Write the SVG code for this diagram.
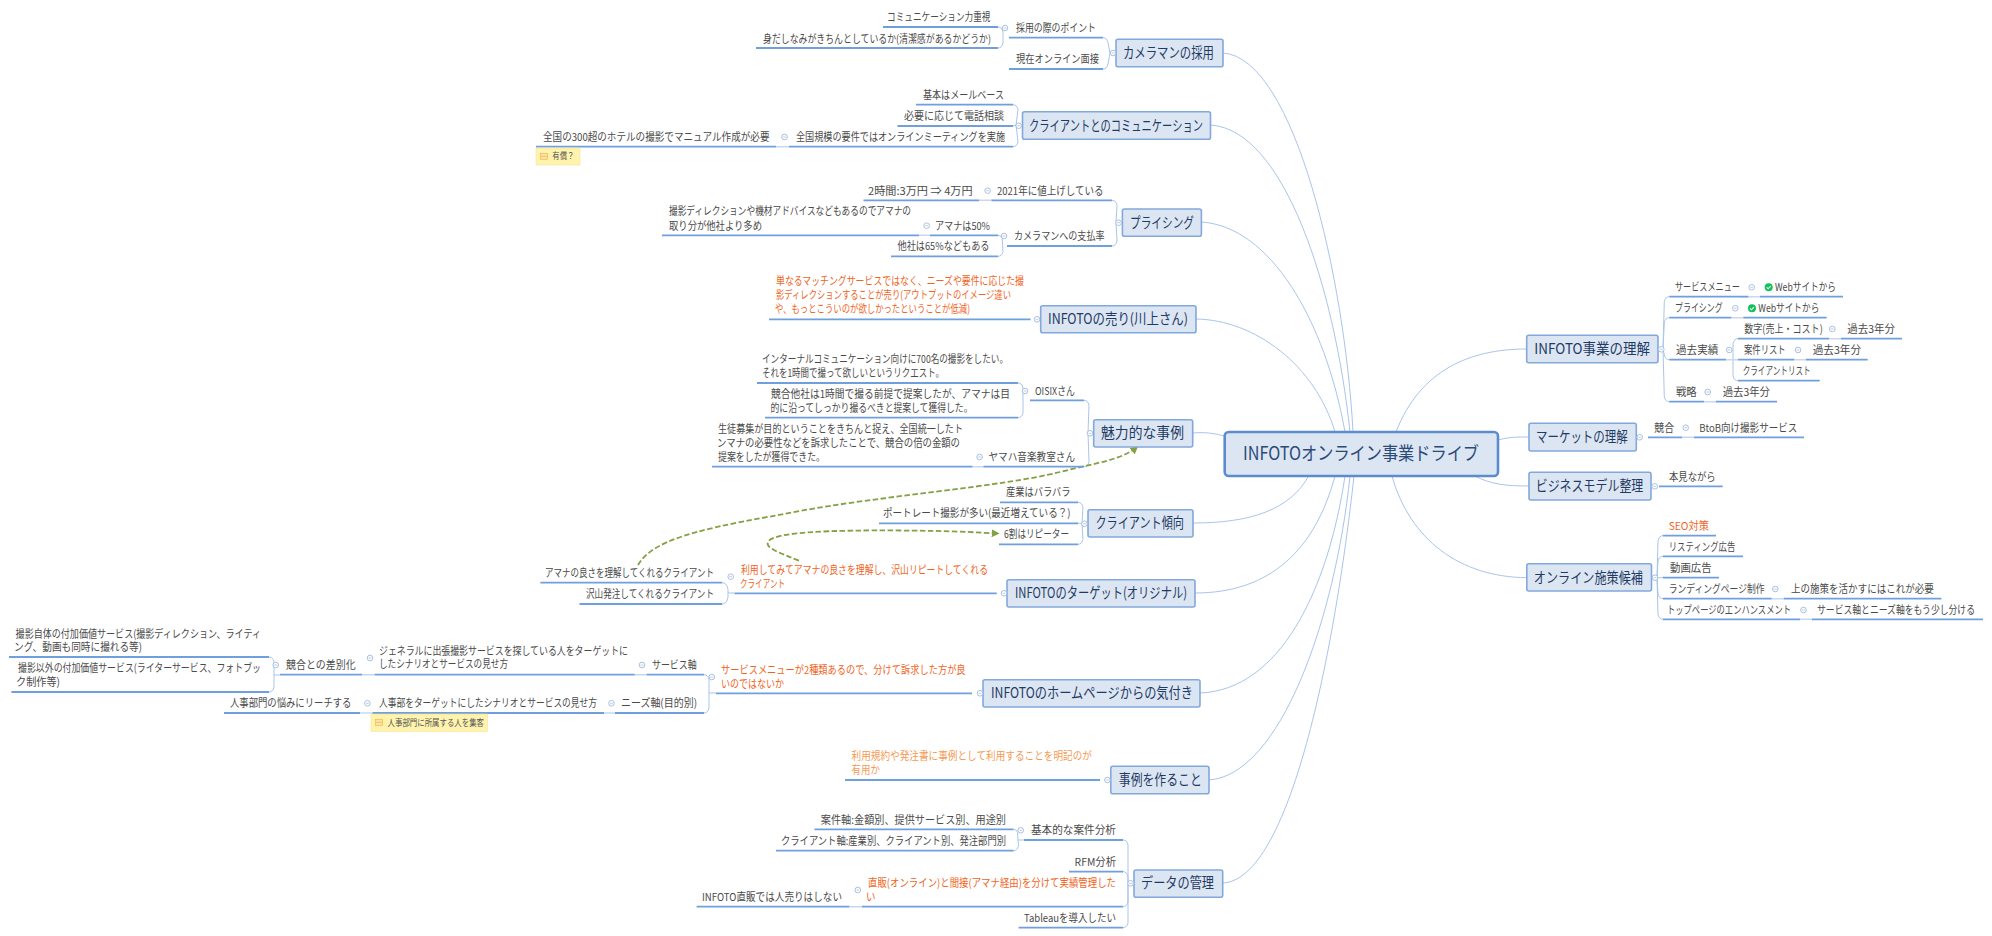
<svg xmlns="http://www.w3.org/2000/svg" width="1992" height="936" viewBox="0 0 1992 936">
<style>
text{font-family:"Noto Sans CJK JP","Noto Sans",sans-serif;font-size:11px;fill:#4a4a4a;white-space:pre}
.h{font-size:14.5px;fill:#1f3a63}
.c{font-size:18.500px;fill:#2b4a78}
.o{fill:#f0651e}
.l{fill:#f59a52}
.s{font-size:9px;fill:#555}
.b{fill:#dce6f3;stroke:#82a8dc;stroke-width:1.6}
.u{stroke:#6f9fdc;stroke-width:1.8;fill:none}
.k{stroke:#c9d8ee;stroke-width:1.4;fill:none}
.m{stroke:#a9c5ea;stroke-width:1;fill:none}
.d{stroke:#84a045;stroke-width:1.8;stroke-dasharray:5.500 2.500;fill:none}
.n{fill:#fff3ad;stroke:#f6e58f;stroke-width:.6}
</style>
<defs>
<g id="q"><circle r="2.8" fill="#fff" stroke="#a9bfe0" stroke-width="1"/><path d="M-1.4 0H1.4" stroke="#a9bfe0" stroke-width=".8"/></g>
<g id="ok"><circle r="4" fill="#0fc35a"/><path d="M-2 0L-.6 1.5L2 -1.2" stroke="#fff" stroke-width="1.1" fill="none"/></g>
<g id="ni"><rect x="-3.500" y="-3" width="7" height="6" fill="#fde49c" stroke="#eeb95e" stroke-width=".7"/><path d="M-3.500 0H3.500" stroke="#eeb95e" stroke-width=".7"/></g>
<marker id="ar" viewBox="0 0 10 10" refX="8" refY="5" markerWidth="8" markerHeight="8" orient="auto-start-reverse" markerUnits="userSpaceOnUse"><path d="M0 0L10 5L0 10Z" fill="#84a045"/></marker>
</defs>
<g id="connectors">
<path class="m" d="M1223 53C1295 58 1345 280 1353 432"/>
<path class="m" d="M1210.6 125C1285 130 1335 290 1350 432"/>
<path class="m" d="M1201 222C1270 226 1325 320 1345 432"/>
<path class="m" d="M1196 319C1255 320 1315 365 1335 432"/>
<path class="m" d="M1192.600 433C1205 432 1212 433 1224.700 436"/>
<path class="m" d="M1193 523C1250 523 1290 510 1308.600 476"/>
<path class="m" d="M1195 593C1270 593 1315 550 1335 476"/>
<path class="m" d="M1200 693C1280 690 1328 590 1345 476"/>
<path class="m" d="M1209 780C1280 775 1335 620 1350 476"/>
<path class="m" d="M1222.700 883C1290 880 1335 650 1354 476"/>
<path class="m" d="M1526.700 349C1470 349 1420 370 1396 432"/>
<path class="m" d="M1498 440C1510 437 1515 437 1529 437"/>
<path class="m" d="M1475 476C1490 484 1505 486 1529 486"/>
<path class="m" d="M1526.800 577.700C1460 577 1410 540 1392 476"/>
<path class="m" d="M1103 37.700q4 0 5 5L1110 53M1103 69q4 0 5-5L1110 53M998 27q4 0 5 5L1003 38M998 48q4 0 5-5L1003 38"/>
<path class="m" d="M1013 104.700q4 0 5 5L1016 125M1013 126L1016 125M1013 146.700q4 0 5-5L1016 125"/>
<path class="m" d="M1112 200.300q4 0 5 5L1116 222M1112 246q4 0 5-5L1116 222M998 235.300q3 0 4 3M998 256.300q4 0 5-5L1002 236"/>
<path class="m" d="M1084 400.300q4 0 5 5L1088 433M1084 466.700q4 0 5-5L1088 433M1018 383q4 0 5 5L1023 391M1018 417.700q4 0 5-5L1023 391"/>
<path class="m" d="M1078 502.300q4 0 5 5L1082 523M1078 523.300H1082M1078 544.300q4 0 5-5L1082 523"/>
<path class="m" d="M722 582.700q5 0 6 7L728 593H734.500M722 604q5 0 6-7L728 593"/>
<path class="m" d="M704 674.700q4 0 5 5L709 693H716M704 713q4 0 5-5L709 693"/>
<path class="m" d="M269 657q4 0 5 5L274 675H280M269 692q4 0 5-5L274 675"/>
<path class="m" d="M1123 840q4 0 5 5L1128 883M1123 871.700q4 0 5 5L1128 883M1123 906.700q4 0 5-5L1128 883M1123 927.700q4 0 5-5L1128 883M1013.500 829.300q3 0 4 3L1018 840H1024M1013.500 850.700q4 0 5-5L1018 840"/>
<path class="m" d="M1669.300 296.700q-4 0-5 5L1663 349M1669.300 317.700q-4 0-5 5L1663 349M1669.300 359.700q-4 0-5-5L1663 349M1669.300 401.700q-4 0-5-5L1663 349M1738 338.700q-4 0-5 5L1733 360M1738 380.700q-4 0-5-5L1733 360"/>
<path class="m" d="M1663 535.700q-4 0-5 5L1657 578M1663 556.300q-4 0-5 5L1657 578M1663 577.700H1657M1663 598.700q-4 0-5-5L1657 578M1663 619.300q-4 0-5-5L1657 578"/>
<path class="k" d="M776 146.700H789M979 200.300H991.500M919 235.300H930M972.500 466.700H983.400M362 674.700H374.600M360 713H372.500M634.700 674.700H646.500M604 713H615M849.400 906.700H862M1740 296.700H1760M1731.300 317.700H1743.300M1829 338.700H1841M1794.300 359.700H1806M1704 401.700H1716M1682 437.300H1694M1771.700 598.700H1783.800M1800 619.300H1812M1726 359.700H1738"/>
<path class="d" d="M638 565C655 535 720 526 800 511S1000 487 1060 472C1095 463 1122 460 1137 447" marker-end="url(#ar)"/>
<path class="d" d="M799 560.700C780 553 765 548 768 542C772 532 830 530 900 530.500S980 533 998 533.500" marker-end="url(#ar)"/>
</g>
<g id="root"><rect x="1224.700" y="432" width="273.300" height="44" rx="4" fill="#dce6f3" stroke="#5c8ccc" stroke-width="2.600"/><text class="c" x="1243" y="460" textLength="236" lengthAdjust="spacingAndGlyphs">INFOTOオンライン事業ドライブ</text></g>

<g id="n1"><rect class="b" x="1116" y="39.300" width="107" height="27.400" rx="2"/><text class="h" x="1123" y="58" textLength="91" lengthAdjust="spacingAndGlyphs">カメラマンの採用</text><use href="#q" x="1113" y="53"/></g>
<g id="n1a"><path class="u" d="M1009 37.700H1103"/><text x="1016" y="31.700" textLength="80" lengthAdjust="spacingAndGlyphs">採用の際のポイント</text><use href="#q" x="1005" y="28"/></g>
<g id="n1a1"><path class="u" d="M883 27H998"/><text x="887" y="21.300" textLength="103.500" lengthAdjust="spacingAndGlyphs">コミュニケーション力重視</text></g>
<g id="n1a2"><path class="u" d="M756 48H998"/><text x="763" y="42.700" textLength="228" lengthAdjust="spacingAndGlyphs">身だしなみがきちんとしているか(清潔感があるかどうか)</text></g>
<g id="n1b"><path class="u" d="M1009 69H1103"/><text x="1016" y="63.300" textLength="83" lengthAdjust="spacingAndGlyphs">現在オンライン面接</text></g>

<g id="n2"><rect class="b" x="1022.500" y="111.700" width="188" height="27.600" rx="2"/><text class="h" x="1029" y="130.500" textLength="174" lengthAdjust="spacingAndGlyphs">クライアントとのコミュニケーション</text><use href="#q" x="1018.700" y="125.700"/></g>
<g id="n2a"><path class="u" d="M916 104.700H1013"/><text x="923" y="99" textLength="81" lengthAdjust="spacingAndGlyphs">基本はメールベース</text></g>
<g id="n2b"><path class="u" d="M897.500 126H1013"/><text x="904" y="119.700" textLength="100" lengthAdjust="spacingAndGlyphs">必要に応じて電話相談</text></g>
<g id="n2c"><path class="u" d="M789 146.700H1013"/><text x="796" y="140.700" textLength="209" lengthAdjust="spacingAndGlyphs">全国規模の要件ではオンラインミーティングを実施</text><use href="#q" x="784.500" y="137"/></g>
<g id="n2c1"><path class="u" d="M536 146.700H776"/><text x="543" y="140.700" textLength="226.500" lengthAdjust="spacingAndGlyphs">全国の300超のホテルの撮影でマニュアル作成が必要</text></g>
<g id="n2c1n"><rect class="n" x="536" y="148" width="44" height="17"/><use href="#ni" x="544" y="156.300"/><text class="s" x="552.300" y="159.300" textLength="22" lengthAdjust="spacingAndGlyphs">有償？</text></g>

<g id="n3"><rect class="b" x="1122.400" y="209" width="79" height="27.300" rx="2"/><text class="h" x="1130" y="227.700" textLength="64" lengthAdjust="spacingAndGlyphs">プライシング</text><use href="#q" x="1118.500" y="222.700"/></g>
<g id="n3a"><path class="u" d="M991.500 200.300H1112"/><text x="997" y="194.700" textLength="106.500" lengthAdjust="spacingAndGlyphs">2021年に値上げしている</text><use href="#q" x="987.600" y="190.700"/></g>
<g id="n3a1"><path class="u" d="M863.500 200.300H979"/><text x="868" y="194.700" textLength="104.600" lengthAdjust="spacingAndGlyphs">2時間:3万円 ⇒ 4万円</text></g>
<g id="n3b"><path class="u" d="M1007 246H1112"/><text x="1014" y="240" textLength="90.500" lengthAdjust="spacingAndGlyphs">カメラマンへの支払率</text><use href="#q" x="1004" y="236"/></g>
<g id="n3b1"><path class="u" d="M930 235.300H998"/><text x="935" y="229.700" textLength="55" lengthAdjust="spacingAndGlyphs">アマナは50%</text><use href="#q" x="926.600" y="225.700"/></g>
<g id="n3b1a"><path class="u" d="M662 235.300H919"/><text x="669" y="215.300" textLength="242" lengthAdjust="spacingAndGlyphs">撮影ディレクションや機材アドバイスなどもあるのでアマナの</text><text x="669" y="229.700" textLength="93" lengthAdjust="spacingAndGlyphs">取り分が他社より多め</text></g>
<g id="n3b2"><path class="u" d="M891 256.300H998"/><text x="897.500" y="250.300" textLength="92" lengthAdjust="spacingAndGlyphs">他社は65%などもある</text></g>

<g id="n4"><rect class="b" x="1040.700" y="305.700" width="155.300" height="27" rx="2"/><text class="h" x="1048" y="324.300" textLength="140" lengthAdjust="spacingAndGlyphs">INFOTOの売り(川上さん)</text><use href="#q" x="1037" y="319.300"/></g>
<g id="n4a"><path class="u" d="M769 319.300H1030.600"/><text class="o" x="776" y="285.300" textLength="248" lengthAdjust="spacingAndGlyphs">単なるマッチングサービスではなく、ニーズや要件に応じた撮</text><text class="o" x="776" y="299.300" textLength="235" lengthAdjust="spacingAndGlyphs">影ディレクションすることが売り(アウトプットのイメージ違い</text><text class="o" x="775" y="313.300" textLength="195" lengthAdjust="spacingAndGlyphs">や、もっとこういのが欲しかったということが低減)</text></g>

<g id="n5"><rect class="b" x="1093.700" y="419.700" width="99" height="27.300" rx="2"/><text class="h" x="1101" y="438" textLength="83" lengthAdjust="spacingAndGlyphs">魅力的な事例</text><use href="#q" x="1090" y="433.300"/></g>
<g id="n5a"><path class="u" d="M1030 400.300H1084"/><text x="1035" y="395" textLength="40" lengthAdjust="spacingAndGlyphs">OISIXさん</text><use href="#q" x="1025" y="391"/></g>
<g id="n5a1"><path class="u" d="M757 383H1018"/><text x="762" y="363" textLength="246" lengthAdjust="spacingAndGlyphs">インターナルコミュニケーション向けに700名の撮影をしたい。</text><text x="762" y="377" textLength="182" lengthAdjust="spacingAndGlyphs">それを1時間で撮って欲しいというリクエスト。</text></g>
<g id="n5a2"><path class="u" d="M765 417.700H1018"/><text x="771" y="398" textLength="239" lengthAdjust="spacingAndGlyphs">競合他社は1時間で撮る前提で提案したが、アマナは目</text><text x="770.500" y="412" textLength="202" lengthAdjust="spacingAndGlyphs">的に沿ってしっかり撮るべきと提案して獲得した。</text></g>
<g id="n5b"><path class="u" d="M983.400 466.700H1084"/><text x="988.500" y="461" textLength="86.500" lengthAdjust="spacingAndGlyphs">ヤマハ音楽教室さん</text><use href="#q" x="979.600" y="457"/></g>
<g id="n5b1"><path class="u" d="M712 466.700H972.500"/><text x="718" y="433" textLength="245" lengthAdjust="spacingAndGlyphs">生徒募集が目的ということをきちんと捉え、全国統一したト</text><text x="717" y="447" textLength="243" lengthAdjust="spacingAndGlyphs">ンマナの必要性などを訴求したことで、競合の倍の金額の</text><text x="718" y="461" textLength="107" lengthAdjust="spacingAndGlyphs">提案をしたが獲得できた。</text></g>

<g id="n6"><rect class="b" x="1088" y="509.700" width="105" height="27.300" rx="2"/><text class="h" x="1095.400" y="528.300" textLength="88.600" lengthAdjust="spacingAndGlyphs">クライアント傾向</text><use href="#q" x="1084.400" y="523.700"/></g>
<g id="n6a"><path class="u" d="M1000 502.300H1078"/><text x="1006" y="496.300" textLength="64.500" lengthAdjust="spacingAndGlyphs">産業はバラバラ</text></g>
<g id="n6b"><path class="u" d="M879 523.300H1078"/><text x="883" y="517.300" textLength="187.500" lengthAdjust="spacingAndGlyphs">ポートレート撮影が多い(最近増えている？)</text></g>
<g id="n6c"><path class="u" d="M999 544.300H1078"/><text x="1004" y="538.300" textLength="65" lengthAdjust="spacingAndGlyphs">6割はリピーター</text></g>

<g id="n7"><rect class="b" x="1007" y="579.700" width="188" height="27.300" rx="2"/><text class="h" x="1015" y="598.300" textLength="172" lengthAdjust="spacingAndGlyphs">INFOTOのターゲット(オリジナル)</text><use href="#q" x="1004" y="593.300"/></g>
<g id="n7a"><path class="u" d="M734.500 593.300H996.700"/><text class="o" x="741" y="573.700" textLength="247" lengthAdjust="spacingAndGlyphs">利用してみてアマナの良さを理解し、沢山リピートしてくれる</text><text class="o" x="740" y="587.700" textLength="45" lengthAdjust="spacingAndGlyphs">クライアント</text><use href="#q" x="730.700" y="576.700"/></g>
<g id="n7a1"><path class="u" d="M540.400 582.700H722"/><text x="545" y="577.300" textLength="169" lengthAdjust="spacingAndGlyphs">アマナの良さを理解してくれるクライアント</text></g>
<g id="n7a2"><path class="u" d="M579.500 604H722"/><text x="586" y="598" textLength="128" lengthAdjust="spacingAndGlyphs">沢山発注してくれるクライアント</text></g>

<g id="n8"><rect class="b" x="983" y="679.700" width="217" height="27.300" rx="2"/><text class="h" x="991" y="698.300" textLength="202" lengthAdjust="spacingAndGlyphs">INFOTOのホームページからの気付き</text><use href="#q" x="980" y="693.300"/></g>
<g id="n8a"><path class="u" d="M716 693.300H972"/><text class="o" x="721" y="673.700" textLength="244.600" lengthAdjust="spacingAndGlyphs">サービスメニューが2種類あるので、分けて訴求した方が良</text><text class="o" x="721" y="687.700" textLength="63" lengthAdjust="spacingAndGlyphs">いのではないか</text><use href="#q" x="711.800" y="677"/></g>
<g id="n8a1"><path class="u" d="M646.500 674.700H704"/><text x="652" y="668.700" textLength="44.600" lengthAdjust="spacingAndGlyphs">サービス軸</text><use href="#q" x="642" y="665"/></g>
<g id="n8a1a"><path class="u" d="M374.600 674.700H634.700"/><text x="379" y="654.700" textLength="249" lengthAdjust="spacingAndGlyphs">ジェネラルに出張撮影サービスを探している人をターゲットに</text><text x="379" y="668.300" textLength="129" lengthAdjust="spacingAndGlyphs">したシナリオとサービスの見せ方</text><use href="#q" x="370" y="658"/></g>
<g id="n8a1b"><path class="u" d="M280 674.700H362"/><text x="286" y="668.700" textLength="69.600" lengthAdjust="spacingAndGlyphs">競合との差別化</text><use href="#q" x="275.700" y="665"/></g>
<g id="n8a1c"><path class="u" d="M9 657H269"/><text x="15.600" y="637.700" textLength="245.400" lengthAdjust="spacingAndGlyphs">撮影自体の付加価値サービス(撮影ディレクション、ライティ</text><text x="14" y="651.300" textLength="128" lengthAdjust="spacingAndGlyphs">ング、動画も同時に撮れる等)</text></g>
<g id="n8a1d"><path class="u" d="M11.400 692H269"/><text x="18" y="672.300" textLength="243" lengthAdjust="spacingAndGlyphs">撮影以外の付加価値サービス(ライターサービス、フォトブッ</text><text x="16" y="686.300" textLength="44" lengthAdjust="spacingAndGlyphs">ク制作等)</text></g>
<g id="n8a2"><path class="u" d="M615 713H704"/><text x="621" y="707.300" textLength="76" lengthAdjust="spacingAndGlyphs">ニーズ軸(目的別)</text><use href="#q" x="611.500" y="703.300"/></g>
<g id="n8a2a"><path class="u" d="M372.500 713H604"/><text x="379" y="707.300" textLength="218" lengthAdjust="spacingAndGlyphs">人事部をターゲットにしたシナリオとサービスの見せ方</text><use href="#q" x="367.400" y="703.300"/></g>
<g id="n8a2b"><path class="u" d="M224 713H360"/><text x="230" y="707.300" textLength="121.400" lengthAdjust="spacingAndGlyphs">人事部門の悩みにリーチする</text></g>
<g id="n8a2n"><rect class="n" x="371" y="714" width="116.400" height="17.300"/><use href="#ni" x="379" y="722.300"/><text class="s" x="387.600" y="725.500" textLength="96.400" lengthAdjust="spacingAndGlyphs">人事部門に所属する人を集客</text></g>

<g id="n9"><rect class="b" x="1110.800" y="766.300" width="98.200" height="27.400" rx="2"/><text class="h" x="1118.800" y="785" textLength="83" lengthAdjust="spacingAndGlyphs">事例を作ること</text><use href="#q" x="1107.400" y="780"/></g>
<g id="n9a"><path class="u" d="M845 780H1100"/><text class="l" x="851.500" y="760.300" textLength="240.500" lengthAdjust="spacingAndGlyphs">利用規約や発注書に事例として利用することを明記のが</text><text class="l" x="851.500" y="774" textLength="28.500" lengthAdjust="spacingAndGlyphs">有用か</text></g>

<g id="n10"><rect class="b" x="1134" y="870" width="88.700" height="27.300" rx="2"/><text class="h" x="1141" y="888.300" textLength="73" lengthAdjust="spacingAndGlyphs">データの管理</text><use href="#q" x="1130.600" y="883.300"/></g>
<g id="n10a"><path class="u" d="M1024 840H1123"/><text x="1031" y="834.300" textLength="85" lengthAdjust="spacingAndGlyphs">基本的な案件分析</text><use href="#q" x="1020.700" y="830.300"/></g>
<g id="n10a1"><path class="u" d="M814.500 829.300H1013.500"/><text x="820.800" y="823.700" textLength="185.200" lengthAdjust="spacingAndGlyphs">案件軸:金額別、提供サービス別、用途別</text></g>
<g id="n10a2"><path class="u" d="M776 850.700H1013.500"/><text x="781" y="845" textLength="225" lengthAdjust="spacingAndGlyphs">クライアント軸:産業別、クライアント別、発注部門別</text></g>
<g id="n10b"><path class="u" d="M1069 871.700H1123"/><text x="1074.600" y="866" textLength="41.400" lengthAdjust="spacingAndGlyphs">RFM分析</text></g>
<g id="n10c"><path class="u" d="M862 906.700H1123"/><text class="o" x="868" y="886.700" textLength="248" lengthAdjust="spacingAndGlyphs">直販(オンライン)と間接(アマナ経由)を分けて実績管理した</text><text class="o" x="866" y="900.700" textLength="9.500" lengthAdjust="spacingAndGlyphs">い</text><use href="#q" x="857.800" y="890"/></g>
<g id="n10c1"><path class="u" d="M696.600 906.700H849.400"/><text x="702" y="901" textLength="140" lengthAdjust="spacingAndGlyphs">INFOTO直販では人売りはしない</text></g>
<g id="n10d"><path class="u" d="M1018.600 927.700H1123"/><text x="1024" y="921.700" textLength="92" lengthAdjust="spacingAndGlyphs">Tableauを導入したい</text></g>

<g id="r1"><rect class="b" x="1526.700" y="335.300" width="131.300" height="27.400" rx="2"/><text class="h" x="1534.300" y="354.300" textLength="115.700" lengthAdjust="spacingAndGlyphs">INFOTO事業の理解</text><use href="#q" x="1661.300" y="349.300"/></g>
<g id="r1a"><path class="u" d="M1669.300 296.700H1748.300"/><text x="1675" y="291" textLength="65" lengthAdjust="spacingAndGlyphs">サービスメニュー</text><use href="#q" x="1751.700" y="287.300"/></g>
<g id="r1a1"><path class="u" d="M1760 296.700H1843"/><use href="#ok" x="1768.700" y="287.300"/><text x="1775" y="291" textLength="61" lengthAdjust="spacingAndGlyphs">Webサイトから</text></g>
<g id="r1b"><path class="u" d="M1669.300 317.700H1731.300"/><text x="1675" y="312" textLength="47.700" lengthAdjust="spacingAndGlyphs">プライシング</text><use href="#q" x="1735.300" y="308.300"/></g>
<g id="r1b1"><path class="u" d="M1743.300 317.700H1826.700"/><use href="#ok" x="1752" y="308.300"/><text x="1758.300" y="312" textLength="61" lengthAdjust="spacingAndGlyphs">Webサイトから</text></g>
<g id="r1c"><path class="u" d="M1669.300 359.700H1726"/><text x="1676" y="354" textLength="42.300" lengthAdjust="spacingAndGlyphs">過去実績</text><use href="#q" x="1729.300" y="350"/></g>
<g id="r1c1"><path class="u" d="M1738 338.700H1829"/><text x="1744.300" y="333" textLength="78.400" lengthAdjust="spacingAndGlyphs">数字(売上・コスト)</text><use href="#q" x="1832.300" y="329"/></g>
<g id="r1c1a"><path class="u" d="M1841 338.700H1902"/><text x="1847.300" y="333" textLength="47.700" lengthAdjust="spacingAndGlyphs">過去3年分</text></g>
<g id="r1c2"><path class="u" d="M1738 359.700H1794.300"/><text x="1744" y="354" textLength="41.700" lengthAdjust="spacingAndGlyphs">案件リスト</text><use href="#q" x="1798" y="350"/></g>
<g id="r1c2a"><path class="u" d="M1806 359.700H1867.700"/><text x="1812.700" y="354" textLength="48.300" lengthAdjust="spacingAndGlyphs">過去3年分</text></g>
<g id="r1c3"><path class="u" d="M1738 380.700H1819.700"/><text x="1742.700" y="375" textLength="68" lengthAdjust="spacingAndGlyphs">クライアントリスト</text></g>
<g id="r1d"><path class="u" d="M1669.300 401.700H1704"/><text x="1676" y="396" textLength="20.700" lengthAdjust="spacingAndGlyphs">戦略</text><use href="#q" x="1707.700" y="392"/></g>
<g id="r1d1"><path class="u" d="M1716 401.700H1777"/><text x="1722.700" y="396" textLength="47.300" lengthAdjust="spacingAndGlyphs">過去3年分</text></g>

<g id="r2"><rect class="b" x="1529" y="423.300" width="107.300" height="27.700" rx="2"/><text class="h" x="1536" y="442.300" textLength="91.700" lengthAdjust="spacingAndGlyphs">マーケットの理解</text><use href="#q" x="1639.700" y="437.300"/></g>
<g id="r2a"><path class="u" d="M1648 437.300H1682"/><text x="1654.300" y="431.700" textLength="19.700" lengthAdjust="spacingAndGlyphs">競合</text><use href="#q" x="1685.700" y="427.700"/></g>
<g id="r2a1"><path class="u" d="M1694 437.300H1804"/><text x="1699.300" y="431.700" textLength="98" lengthAdjust="spacingAndGlyphs">BtoB向け撮影サービス</text></g>

<g id="r3"><rect class="b" x="1529" y="472.300" width="122" height="27.700" rx="2"/><text class="h" x="1535.700" y="491" textLength="107.600" lengthAdjust="spacingAndGlyphs">ビジネスモデル整理</text><use href="#q" x="1654.700" y="486.300"/></g>
<g id="r3a"><path class="u" d="M1659 486.300H1722.700"/><text x="1669" y="480.700" textLength="46.700" lengthAdjust="spacingAndGlyphs">本見ながら</text></g>

<g id="r4"><rect class="b" x="1526.800" y="563.700" width="124.700" height="27.300" rx="2"/><text class="h" x="1533.800" y="582.700" textLength="109.200" lengthAdjust="spacingAndGlyphs">オンライン施策候補</text><use href="#q" x="1655" y="577.700"/></g>
<g id="r4a"><path class="u" d="M1663 535.700H1716"/><text class="o" x="1668.700" y="529.700" textLength="40.300" lengthAdjust="spacingAndGlyphs">SEO対策</text></g>
<g id="r4b"><path class="u" d="M1663 556.300H1743"/><text x="1668.700" y="550.700" textLength="66.700" lengthAdjust="spacingAndGlyphs">リスティング広告</text></g>
<g id="r4c"><path class="u" d="M1663 577.700H1719"/><text x="1670" y="571.700" textLength="41.600" lengthAdjust="spacingAndGlyphs">動画広告</text></g>
<g id="r4d"><path class="u" d="M1663 598.700H1771.700"/><text x="1668.700" y="592.700" textLength="95.900" lengthAdjust="spacingAndGlyphs">ランディングページ制作</text><use href="#q" x="1775.300" y="589"/></g>
<g id="r4d1"><path class="u" d="M1783.800 598.700H1941.400"/><text x="1791" y="592.700" textLength="142.800" lengthAdjust="spacingAndGlyphs">上の施策を活かすにはこれが必要</text></g>
<g id="r4e"><path class="u" d="M1663 619.300H1800"/><text x="1667" y="613.700" textLength="124" lengthAdjust="spacingAndGlyphs">トップページのエンハンスメント</text><use href="#q" x="1803.500" y="610"/></g>
<g id="r4e1"><path class="u" d="M1812 619.300H1983"/><text x="1817" y="613.700" textLength="158" lengthAdjust="spacingAndGlyphs">サービス軸とニーズ軸をもう少し分ける</text></g>
</svg>
